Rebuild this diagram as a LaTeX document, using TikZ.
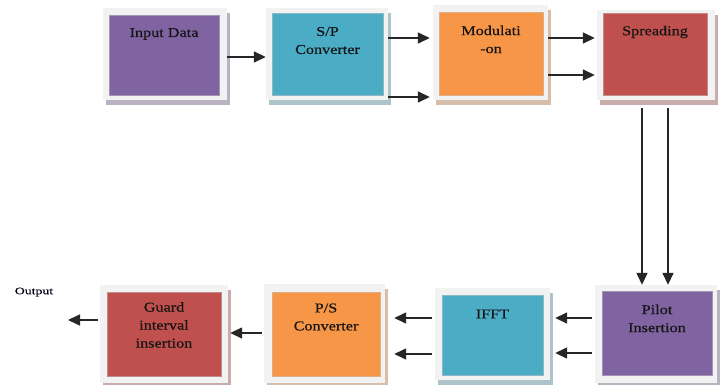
\documentclass[tikz,border=0pt]{standalone}
\usepackage{fontspec}
\setmainfont{Liberation Serif}
\newfontfamily\blkfont[FakeStretch=1.2,FakeBold=0.4]{Liberation Serif}
\usetikzlibrary{arrows.meta,shadows,fit}
\definecolor{cpur}{HTML}{8064A2}
\definecolor{cteal}{HTML}{4BACC6}
\definecolor{corange}{HTML}{F79646}
\definecolor{cred}{HTML}{C0504D}
\definecolor{cframe}{HTML}{F2F2F2}
\begin{document}
\begin{tikzpicture}[x=1pt,y=-1pt,
  frame/.style={fill=cframe, draw=none, inner sep=0pt,
    drop shadow={shadow xshift=3pt, shadow yshift=-5pt, fill=#1!45!gray!55!white, opacity=1}},
  inbox/.style={fill=#1, draw=#1!80!black!60!white, line width=0.4pt, inner sep=0pt},
  lbl/.style={font=\fontsize{13.5}{18}\blkfont, text=black!92, align=center, inner sep=0pt},
  arr/.style={line width=1.5pt, draw=black!85, -{Triangle[length=12pt,width=11pt]}}]
\useasboundingbox[fill=white] (0,0) rectangle (723,385);

% top row
\node[frame=cpur, fit={(103,8) (227,100)}] (f1) {};
\node[inbox=cpur, fit={(109,15) (219,95)}] (i1) {};
\node[frame=cteal, fit={(266,8) (388,100)}] (f2) {};
\node[inbox=cteal, fit={(272,13) (383,95)}] (i2) {};
\node[frame=corange, fit={(433,5) (548,100)}] (f3) {};
\node[inbox=corange, fit={(439,12) (543,95)}] (i3) {};
\node[frame=cred, fit={(597,10) (715,100)}] (f4) {};
\node[inbox=cred, fit={(603,13) (707,95)}] (i4) {};

% bottom row
\node[frame=cred, fit={(100,285) (228,383)}] (f5) {};
\node[inbox=cred, fit={(107,292) (221,376)}] (i5) {};
\node[frame=corange, fit={(264,284) (385,383)}] (f6) {};
\node[inbox=corange, fit={(272,292) (380,376)}] (i6) {};
\node[frame=cteal, fit={(435,288) (550,380)}] (f7) {};
\node[inbox=cteal, fit={(442,295) (543,375)}] (i7) {};
\node[frame=cpur, fit={(595,285) (717,383)}] (f8) {};
\node[inbox=cpur, fit={(602,291) (712,375)}] (i8) {};

% labels
\node[lbl] (t1) at (i1 |- 0,34) {Input Data};
\node[lbl] (t2) at (i2 |- 0,40.5) {S/P\\Converter};
\node[lbl] (t3) at (i3 |- 0,39.5) {Modulati\\-on};
\node[lbl] (t4) at (i4 |- 0,32) {Spreading};
\node[lbl] (t5) at (i5 |- 0,325) {Guard\\interval\\insertion};
\node[lbl] (t6) at (i6 |- 0,317) {P/S\\Converter};
\node[lbl] (t7) at (i7 |- 0,314) {IFFT};
\node[lbl] (t8) at (i8 |- 0,318.5) {Pilot\\Insertion};
\node[font=\fontsize{10}{12}\blkfont, text=black!90!blue, inner sep=0pt, xscale=1.15] (tout) at (34,292) {Output};
\coordinate (out) at (68,320);

% arrows
\draw[arr] (f1.east |- 0,57) -- (f2.west |- 0,57);
\draw[arr, shorten >=3pt] (f2.east |- 0,38) -- (f3.west |- 0,38);
\draw[arr, shorten >=3pt] (f2.east |- 0,97) -- (f3.west |- 0,97);
\draw[arr, shorten >=2pt] (f3.east |- 0,38) -- (f4.west |- 0,38);
\draw[arr, shorten >=2pt] (f3.east |- 0,75) -- (f4.west |- 0,75);
\draw[arr, shorten <=8pt] (f4.south -| 642,0) -- (f8.north -| 642,0);
\draw[arr, shorten <=8pt] (f4.south -| 668,0) -- (f8.north -| 668,0);
\draw[arr, shorten <=3pt, shorten >=5pt] (f8.west |- 0,318) -- (f7.east |- 0,318);
\draw[arr, shorten <=3pt, shorten >=5pt] (f8.west |- 0,353) -- (f7.east |- 0,353);
\draw[arr, shorten <=3pt, shorten >=9pt] (f7.west |- 0,318) -- (f6.east |- 0,318);
\draw[arr, shorten <=3pt, shorten >=9pt] (f7.west |- 0,354) -- (f6.east |- 0,354);
\draw[arr, shorten <=2pt, shorten >=2pt] (f6.west |- 0,333) -- (f5.east |- 0,333);
\draw[arr, shorten <=2pt] (f5.west |- out) -- (out);
\end{tikzpicture}
\end{document}
